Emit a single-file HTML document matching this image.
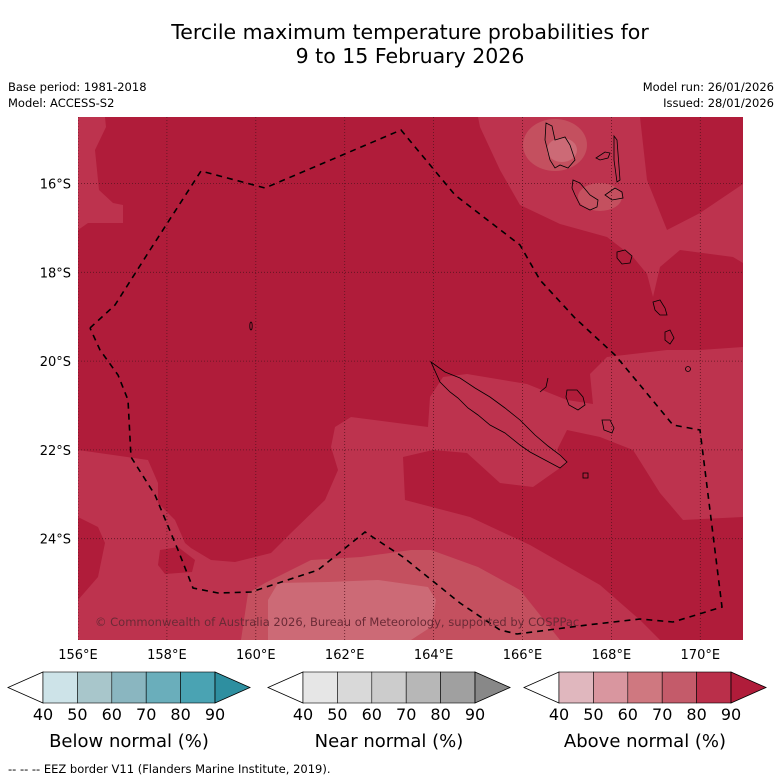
<!DOCTYPE html>
<html><head><meta charset="utf-8"><style>
body{margin:0;background:#fff;width:781px;height:781px;overflow:hidden;font-family:"DejaVu Sans","Liberation Sans",sans-serif}
svg{position:absolute;left:0;top:0}
</style></head><body>
<svg width="781" height="781" viewBox="0 0 781 781" font-family="DejaVu Sans, Liberation Sans, sans-serif">
<text x="410" y="39" font-size="20.5" text-anchor="middle" fill="#000">Tercile maximum temperature probabilities for</text>
<text x="410" y="63" font-size="20.5" text-anchor="middle" fill="#000">9 to 15 February 2026</text>
<text x="8" y="91" font-size="11.5">Base period: 1981-2018</text>
<text x="8" y="107" font-size="11.5">Model: ACCESS-S2</text>
<text x="774" y="91" font-size="11.5" text-anchor="end">Model run: 26/01/2026</text>
<text x="774" y="107" font-size="11.5" text-anchor="end">Issued: 28/01/2026</text>
<defs><clipPath id="mc"><rect x="78" y="117" width="665" height="523"/></clipPath></defs>
<g clip-path="url(#mc)">
<rect x="78" y="117" width="665" height="523" fill="#bd334e"/>
<polygon fill="#b01c3a" points="105,117 478,117 480,127 500,170 520,205 560,224 607,237 633,257 647,274 653,297 660,267 680,250 733,257 743,263 743,347 700,350 667,350 607,357 590,374 593,404 567,400 527,384 467,374 443,377 430,397 428,427 351,417 335,427 331,447 338,470 325,500 291,533 271,553 235,562 211,560 191,548 185,543 175,520 158,503 158,483 148,460 78,450 78,230 88,223 123,223 123,205 113,203 99,190 95,150 106,127"/>
<polygon fill="#b01c3a" points="640,117 743,117 743,184 700,213 667,230 647,180"/>
<polygon fill="#b01c3a" points="403,457 433,450 467,453 500,483 533,487 567,463 557,450 567,430 600,437 633,450 660,493 683,520 743,517 743,640 660,640 640,620 600,585 530,545 470,517 405,500"/>
<polygon fill="#b01c3a" points="78,517 98,527 105,543 98,577 78,600"/>
<polygon fill="#b01c3a" points="160,550 178,547 195,560 192,572 165,574 158,565"/>
<polygon fill="#c4505f" points="241,640 248,593 265,583 311,560 361,557 411,550 431,550 478,567 520,590 560,640"/>
<polygon fill="#cc6a76" points="268,600 278,583 328,582 378,580 428,587 436,600 431,627 411,640 268,640"/>
<ellipse cx="555" cy="145" rx="32" ry="26" fill="#c4505f"/>
<ellipse cx="562" cy="150" rx="15" ry="12" fill="#cc6a76"/>
<ellipse cx="600" cy="197" rx="22" ry="14" fill="#c4505f"/>
<g id="grid"></g>
<polygon fill="none" stroke="#000" stroke-width="0.8" points="431,362 445,372 460,378 475,388 490,397 505,408 520,420 535,435 548,446 560,455 567,462 560,468 545,460 530,452 520,445 505,433 490,425 478,415 468,408 458,398 450,392 440,382"/>
<polygon fill="none" stroke="#000" stroke-width="0.8" points="546,123 552,126 555,140 565,137 570,145 575,160 568,168 560,165 555,168 550,160 545,140"/>
<polygon fill="none" stroke="#000" stroke-width="0.8" points="573,180 580,183 590,195 598,200 597,207 590,210 580,205 575,195 572,188"/>
<polygon fill="none" stroke="#000" stroke-width="0.8" points="617,252 625,250 632,256 630,263 622,264 617,258"/>
<polygon fill="none" stroke="#000" stroke-width="0.8" points="614,136 617,140 620,180 617,182 614,160"/>
<polygon fill="none" stroke="#000" stroke-width="0.8" points="596,158 605,152 610,153 608,158 600,160"/>
<polygon fill="none" stroke="#000" stroke-width="0.8" points="605,195 615,188 622,192 623,198 612,200"/>
<polygon fill="none" stroke="#000" stroke-width="0.8" points="653,302 660,300 665,308 667,315 660,315 655,310"/>
<polygon fill="none" stroke="#000" stroke-width="0.8" points="665,332 670,330 674,338 670,344 665,340"/>
<polygon fill="none" stroke="#000" stroke-width="0.8" points="567,390 577,390 583,397 585,405 578,410 569,405 566,397"/>
<polygon fill="none" stroke="#000" stroke-width="0.8" points="602,420 610,420 614,428 612,433 604,430"/>
<polyline fill="none" stroke="#000" stroke-width="0.8" points="548,378 546,387 540,392"/>
<rect x="583" y="473" width="5" height="5" fill="none" stroke="#000" stroke-width="0.8"/>
<ellipse cx="251" cy="326" rx="1.2" ry="4" fill="none" stroke="#000" stroke-width="0.8"/>
<circle cx="688" cy="369" r="2.5" fill="none" stroke="#000" stroke-width="0.8"/>
<polyline fill="none" stroke="#000" stroke-width="1.6" stroke-dasharray="6,5" points="90,328 115,305 150,250 201,171 265,188 401,130 455,195 520,245 540,280 575,318 615,355 640,385 673,425 700,430 722,607 673,622 640,619 587,625 517,634 500,630 460,603 403,557 365,532 318,570 251,592 218,593 193,588 178,550 155,495 131,457 128,400 118,375 100,350 90,328"/>
<text x="95" y="626" font-size="11.5" fill="#6b2a36">© Commonwealth of Australia 2026, Bureau of Meteorology, supported by COSPPac</text>
</g>
<g id="axes"></g>
<g id="cbars"></g>
<text x="8" y="773" font-size="11.5">--  --  -- EEZ border V11 (Flanders Marine Institute, 2019).</text>
</svg>
<script>
const lonTicks=[156,158,160,162,164,166,168,170];
const latTicks=[16,18,20,22,24];
const cbLevels=[40,50,60,70,80,90];
const cbTitles=["Below normal (%)","Near normal (%)","Above normal (%)"];
const cbBlue=["#cde3e8","#a8c6cb","#8ab6c0","#6aaebb","#4aa3b3","#2e8fa0"];
const cbGrey=["#e6e6e6","#d9d9d9","#cccccc","#b7b7b7","#a0a0a0","#888888"];
const cbRed=["#e0b7be","#d9969f","#cf7880","#c45b6a","#ba2f4a","#b01c3a"];
const NS="http://www.w3.org/2000/svg";
const xLon=l=>78+(l-156)*44.45;
const yLat=l=>183.5+(l-16)*44.4;
const grid=document.getElementById('grid'),axes=document.getElementById('axes');
function mk(tag,at,parent){const e=document.createElementNS(NS,tag);for(const k in at)e.setAttribute(k,at[k]);parent.appendChild(e);return e;}
lonTicks.forEach(l=>{const x=xLon(l);
 const g=mk('line',{x1:x,x2:x,y1:117,y2:640,stroke:'#5a1420','stroke-width':0.8,'stroke-dasharray':'1,2'},grid);
 
 
 const t=mk('text',{x:x,y:659,'font-size':13,'text-anchor':'middle'},axes);t.textContent=l+'°E';
 
 });
latTicks.forEach(l=>{const y=yLat(l);
 const g=mk('line',{x1:78,x2:743,y1:y,y2:y,stroke:'#5a1420','stroke-width':0.8,'stroke-dasharray':'1,2'},grid);
 
 
 const t=mk('text',{x:71,y:y+5,'font-size':13,'text-anchor':'end'},axes);t.textContent=l+'°S';
 
 });
const cb=document.getElementById('cbars');
[[43,cbBlue],[303,cbGrey],[559,cbRed]].forEach(([x0,cols],i)=>{
 const w=172/(cbLevels.length-1),y0=672,h=31,x1=x0+172;
 const lt=mk('polygon',{points:`${x0},${y0} ${x0-35},${y0+h/2} ${x0},${y0+h}`,fill:'#fff',stroke:'#000','stroke-width':0.8},cb);
 
 
 for(let k=0;k<cbLevels.length-1;k++){
  const r=mk('rect',{x:x0+k*w,y:y0,width:w,height:h,fill:cols[k],stroke:'#000','stroke-width':0.6},cb);
  
  }
 const rt=mk('polygon',{points:`${x1},${y0} ${x1+35},${y0+h/2} ${x1},${y0+h}`,fill:cols[5],stroke:'#000','stroke-width':0.8},cb);
 
 
 cbLevels.forEach((v,k)=>{const t=mk('text',{x:x0+k*w,y:720,'font-size':16,'text-anchor':'middle'},cb);t.textContent=v;
  
  });
 const tt=mk('text',{x:x0+86,y:747,'font-size':18,'text-anchor':'middle'},cb);tt.textContent=cbTitles[i];
 
 
});
</script>
</body></html>
